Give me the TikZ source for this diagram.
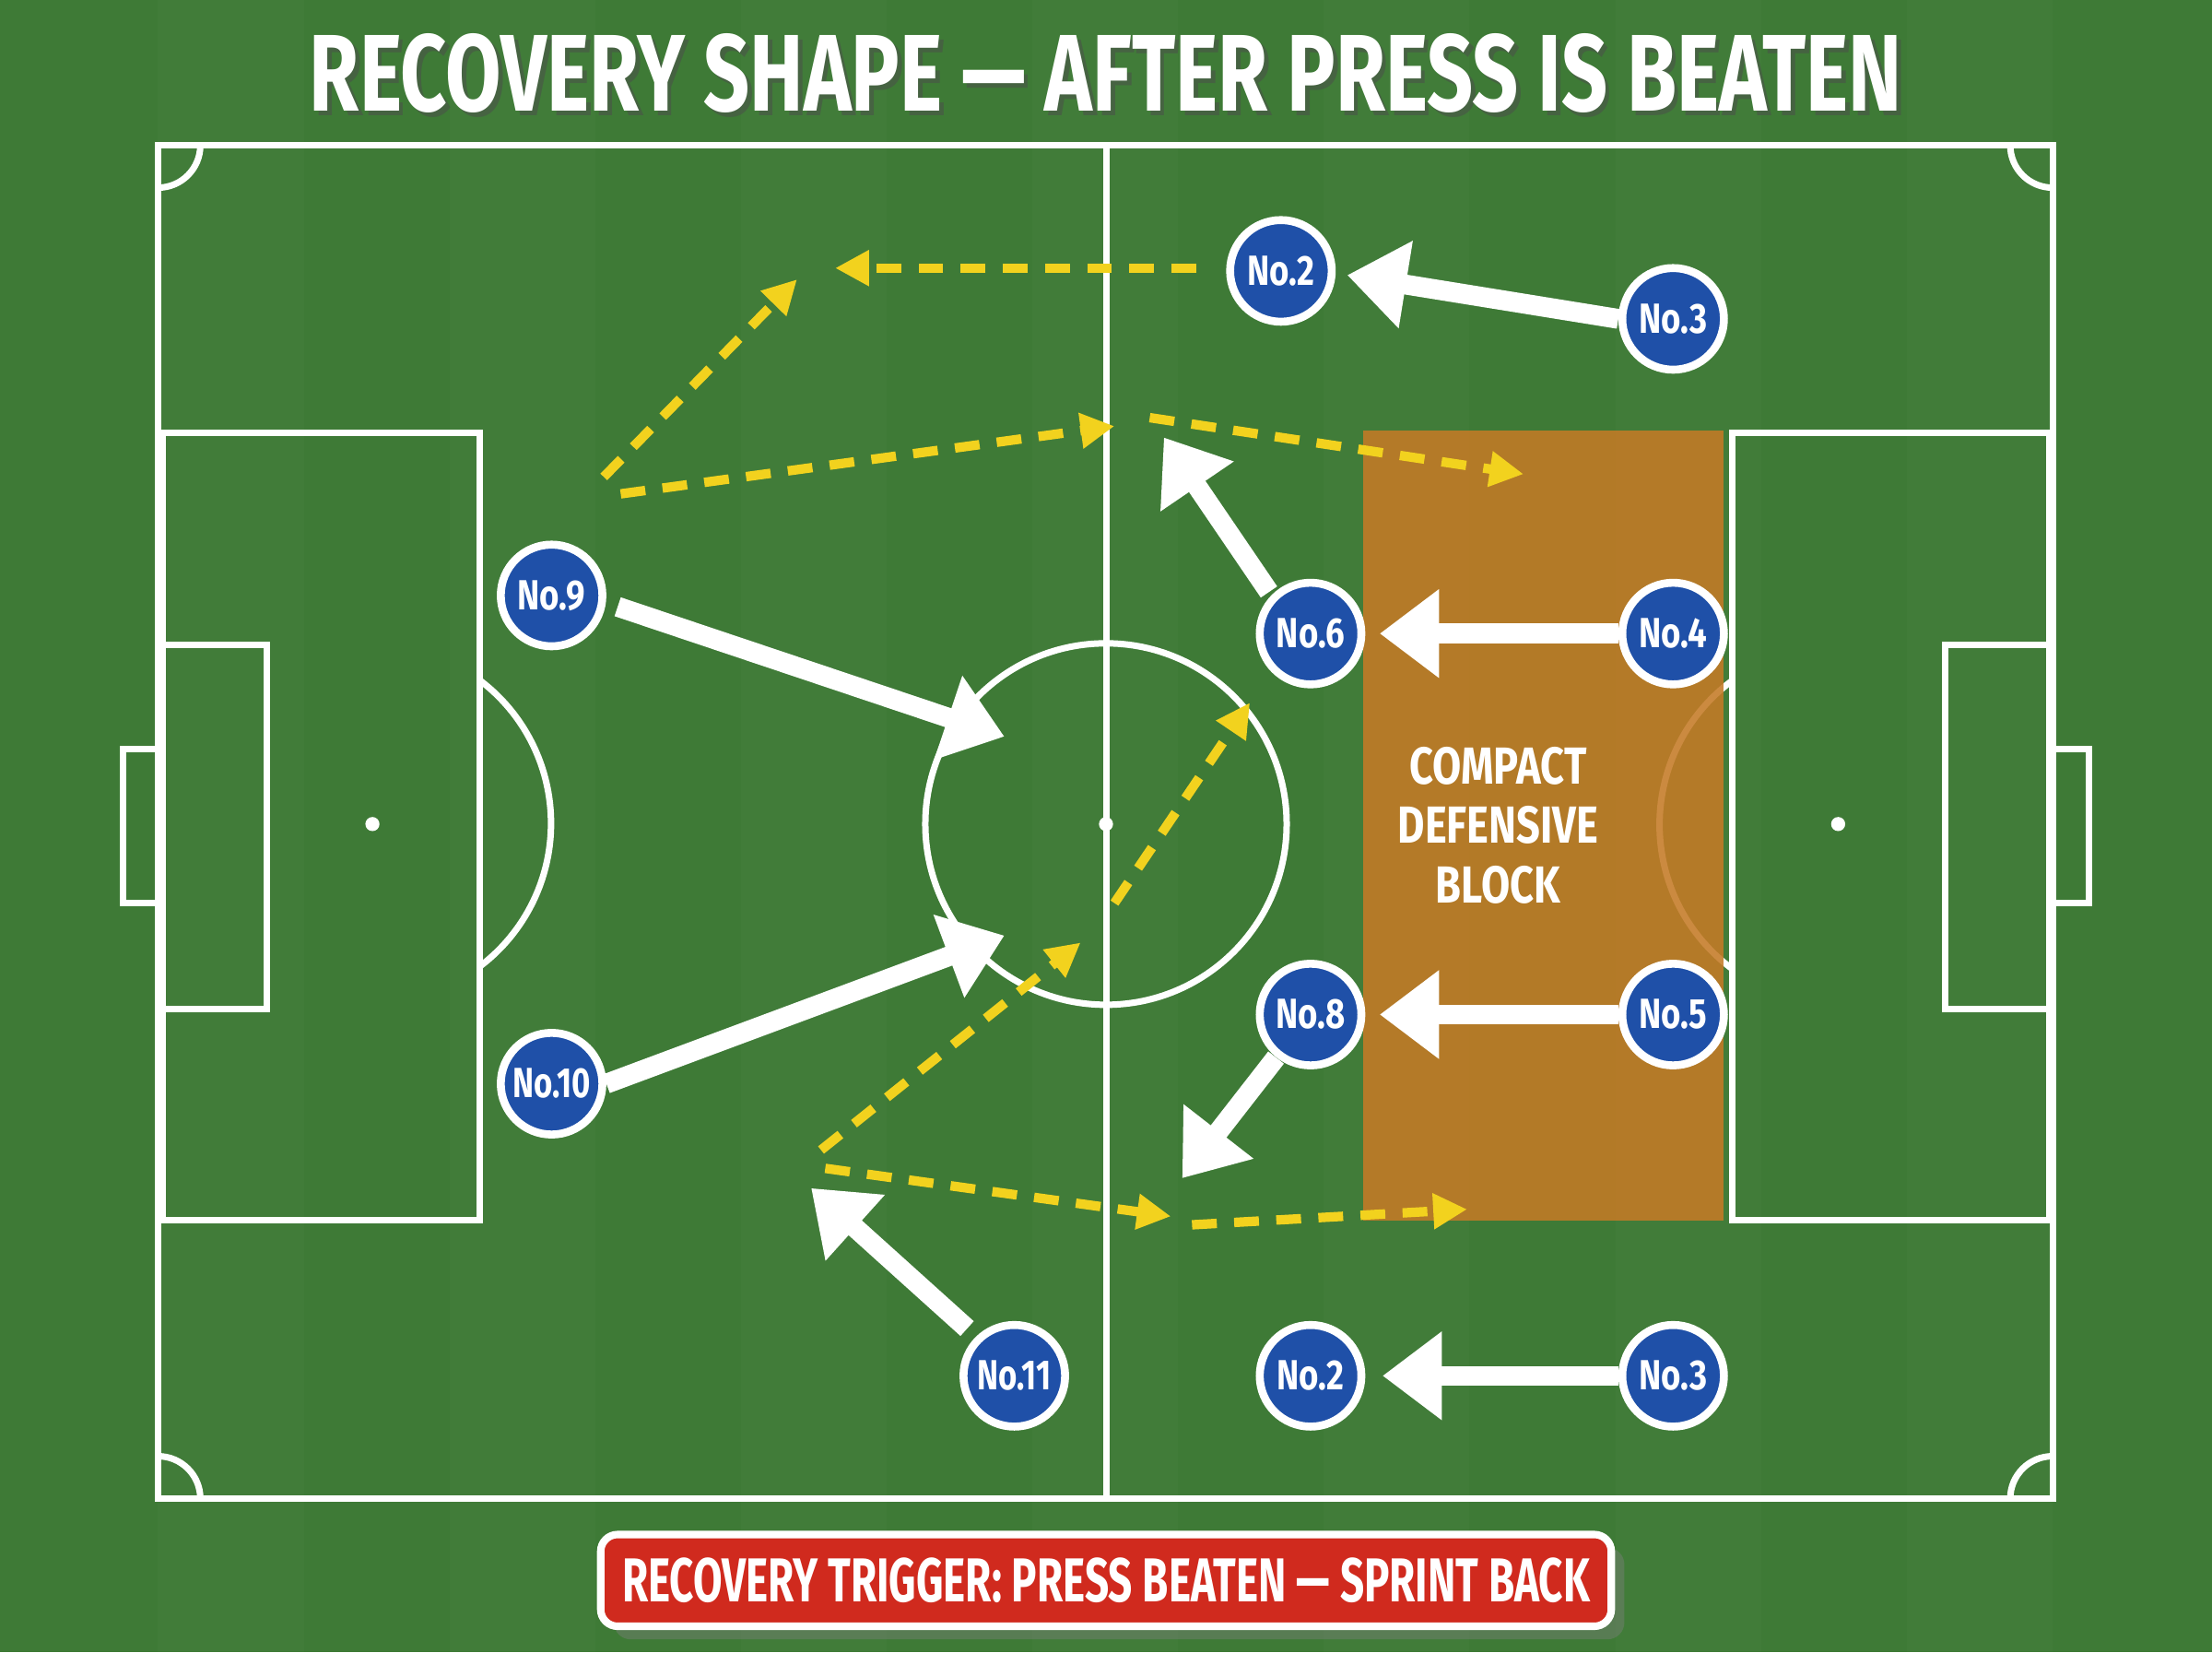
\documentclass[tikz,border=0pt]{standalone}
\usepackage{fontspec}
\setmainfont{Fira Sans}
\usetikzlibrary{arrows.meta,shadows}
\definecolor{grass}{HTML}{3E7A36}
\definecolor{grassb}{HTML}{457F3C}
\definecolor{pblue}{HTML}{1F50A8}
\definecolor{yel}{HTML}{F2D21E}
\definecolor{blockc}{HTML}{C47A26}
\definecolor{trig}{HTML}{D02A1E}
\tikzset{
 line/.style={white,line width=1.3pt},
 pl/.style={circle,fill=pblue,draw=white,line width=1.6pt,minimum size=0.72cm,inner sep=0pt,text=white,font=\bfseries\fontsize{8.5}{8.5}\selectfont,drop shadow={opacity=0.4,shadow xshift=0.4pt,shadow yshift=-0.6pt}},
 run/.style={white,line width=4pt,-{Triangle[width=0.6cm,length=0.42cm]}},
 pass/.style={yel,line width=1.9pt,dash pattern=on 5pt off 3.5pt,-{Triangle[width=0.24cm,length=0.24cm]}}
}
\newcommand{\nar}[2]{\scalebox{#1}[1]{#2}}
\begin{document}
\begin{tikzpicture}[x=0.01cm,y=-0.01cm]
\useasboundingbox (0,0) rectangle (1568,1171);
\fill[grass] (0,0) rectangle (1568,1171);
\foreach \i in {0,2,4,6,8,10,12}{\fill[grassb,opacity=0.5] (112+\i*103.3,0) rectangle (112+\i*103.3+103.3,1171);}
% pitch
\draw[line] (112,103) rectangle (1455,1062);
\draw[line] (784,103) -- (784,1062);
\draw[line] (784,584) circle[radius=1.28cm];
\fill[white] (784,584) circle[radius=0.05cm];
\draw[line] (115,307) rectangle (340,865);
\draw[line] (115,457) rectangle (189,715);
\draw[line] (87,531) rectangle (115,640);
\fill[white] (264,584) circle[radius=0.05cm];
\draw[line] (340,685) arc[start angle=-53,end angle=53,radius=1.27cm];
\draw[line] (1228,307) rectangle (1453,865);
\draw[line] (1379,457) rectangle (1453,715);
\draw[line] (1455,531) rectangle (1481,640);
\fill[white] (1303,584) circle[radius=0.05cm];
\draw[line] (1227,483) arc[start angle=127,end angle=233,radius=1.27cm];
\draw[line] (142,103) arc[start angle=0,end angle=-90,radius=0.3cm];
\draw[line] (1425,103) arc[start angle=180,end angle=270,radius=0.3cm];
\draw[line] (142,1062) arc[start angle=0,end angle=90,radius=0.3cm];
\draw[line] (1425,1062) arc[start angle=180,end angle=90,radius=0.3cm];
% block
\fill[blockc,opacity=0.88] (966,305) rectangle (1222,865);
\node[text=white,align=center,font=\bfseries\fontsize{10.5}{12}\selectfont] (blk) at (1062,585) {\nar{0.8}{COMPACT}\\\nar{0.8}{DEFENSIVE}\\\nar{0.8}{BLOCK}};
% players
\node[pl] (p2t) at (908,192) {\nar{0.8}{No.2}};
\node[pl] (p3t) at (1186,226) {\nar{0.8}{No.3}};
\node[pl] (p9) at (391,422) {\nar{0.8}{No.9}};
\node[pl] (p6) at (929,449) {\nar{0.8}{No.6}};
\node[pl] (p4) at (1186,449) {\nar{0.8}{No.4}};
\node[pl] (p10) at (391,768) {\nar{0.76}{No.10}};
\node[pl] (p8) at (929,719) {\nar{0.8}{No.8}};
\node[pl] (p5) at (1186,719) {\nar{0.8}{No.5}};
\node[pl] (p11) at (719,975) {\nar{0.76}{No.11}};
\node[pl] (p2b) at (929,975) {\nar{0.8}{No.2}};
\node[pl] (p3b) at (1186,975) {\nar{0.8}{No.3}};
% coordinates
\coordinate (a1) at (955,195); \coordinate (a2) at (712,522); \coordinate (a3) at (712,663);
\coordinate (a4) at (825,310); \coordinate (a5) at (978,449); \coordinate (a6) at (978,719);
\coordinate (a7) at (838,835); \coordinate (a8) at (575,842); \coordinate (a9) at (980,975);
% runs
\draw[run] (p3t.west) -- (a1);
\draw[run] (p9.east) ++(8,8) -- (a2);
\draw[run] (p10.east) -- (a3);
\draw[run] (p6.north west) ++(-2,-2) -- (a4);
\draw[run] (p4.west) -- (a5);
\draw[run] (p5.west) -- (a6);
\draw[run] (p8.south west) ++(3,3) -- (a7);
\draw[run] (p11.north west) ++(-6,-6) -- (a8);
\draw[run] (p3b.west) -- (a9);
% passes
\coordinate (y1) at (848,190); \coordinate (y2) at (592,190);
\coordinate (y3) at (428,338); \coordinate (y4) at (565,198);
\coordinate (y5) at (440,350); \coordinate (y6) at (790,302);
\coordinate (y7) at (815,296); \coordinate (y8) at (1080,336);
\coordinate (y9) at (790,640); \coordinate (y10) at (886,498);
\coordinate (y11) at (582,815); \coordinate (y12) at (766,668);
\coordinate (y13) at (585,828); \coordinate (y14) at (830,862);
\coordinate (y15) at (845,868); \coordinate (y16) at (1040,857);
\draw[pass] (y1) -- (y2);
\draw[pass] (y3) -- (y4);
\draw[pass] (y5) -- (y6);
\draw[pass] (y7) -- (y8);
\draw[pass] (y9) -- (y10);
\draw[pass] (y11) -- (y12);
\draw[pass] (y13) -- (y14);
\draw[pass] (y15) -- (y16);
% title
\node[text=black!70,opacity=0.5,font=\bfseries\fontsize{22}{22}\selectfont] at (787,55) {\nar{0.74}{RECOVERY SHAPE — AFTER PRESS IS BEATEN}};
\node[text=white,font=\bfseries\fontsize{22}{22}\selectfont] (title) at (784,52) {\nar{0.74}{RECOVERY SHAPE — AFTER PRESS IS BEATEN}};
% trigger
\node[fill=trig,draw=white,line width=1.5pt,rounded corners=0.12cm,minimum width=7.16cm,minimum height=0.65cm,text=white,font=\bfseries\fontsize{12.5}{12.5}\selectfont,drop shadow={opacity=0.4}] (trg) at (784,1120) {\nar{0.68}{RECOVERY TRIGGER: PRESS BEATEN — SPRINT BACK}};
\end{tikzpicture}
\end{document}
